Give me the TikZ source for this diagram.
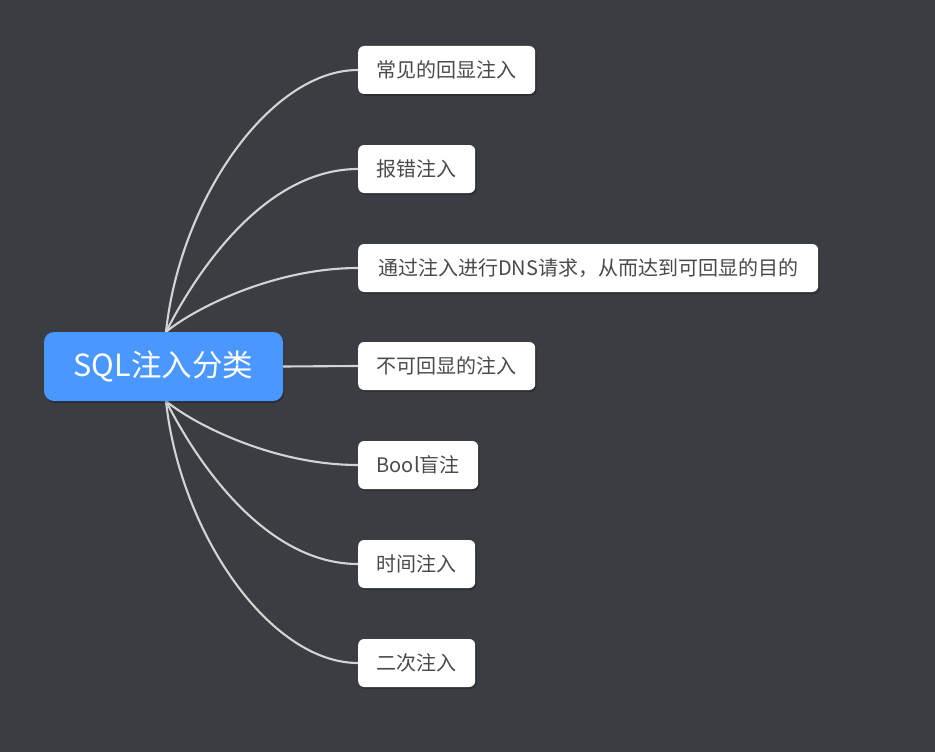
\documentclass[tikz,border=0pt]{standalone}
\usepackage{fontspec}
\setmainfont{Noto Sans CJK SC}
\usetikzlibrary{shadows}
\definecolor{bgc}{HTML}{3A3D42}
\definecolor{rootblue}{HTML}{4A97FF}
\definecolor{linec}{HTML}{D4D4D4}
\definecolor{txtc}{HTML}{4A4A4A}
\tikzset{
  rootbox/.style={fill=rootblue, rounded corners=10pt, minimum width=239pt, minimum height=69pt,
    inner sep=0pt, text=white, font=\fontsize{30.5}{36}\selectfont,
    drop shadow={shadow xshift=1pt, shadow yshift=-2pt, opacity=0.25, fill=black}},
  leafbox/.style={fill=white, rounded corners=6pt, minimum height=48pt, inner xsep=0pt, inner ysep=0pt,
    anchor=west, text=txtc, font=\fontsize{20}{24}\selectfont,
    drop shadow={shadow xshift=1.5pt, shadow yshift=-2pt, opacity=0.22, fill=black}},
  conn/.style={draw=linec, line width=2.1pt}
}
\begin{document}
\begin{tikzpicture}[x=1pt,y=-1pt]
\useasboundingbox[fill=bgc] (0,0) rectangle (935,752);
\coordinate (rt) at (166,332);
\coordinate (rb) at (166,401);
\node[leafbox, minimum width=177pt] (c1) at (358,70) {常见的回显注入};
\node[leafbox, minimum width=117pt] (c2) at (358,169) {报错注入};
\node[leafbox, minimum width=460pt] (c3) at (358,268) {通过注入进行DNS请求，从而达到可回显的目的};
\node[leafbox, minimum width=177pt] (c4) at (358,366) {不可回显的注入};
\node[leafbox, minimum width=120pt] (c5) at (358,465) {Bool盲注};
\node[leafbox, minimum width=117pt] (c6) at (358,564) {时间注入};
\node[leafbox, minimum width=117pt] (c7) at (358,663) {二次注入};
\draw[conn] (rt) .. controls (180,200) and (270,70) .. (c1.west);
\draw[conn] (rt) .. controls (202,261) and (270,169) .. (c2.west);
\draw[conn] (rt) .. controls (189,312) and (270,268) .. (c3.west);
\draw[conn] (rb) .. controls (189,421) and (270,465) .. (c5.west);
\draw[conn] (rb) .. controls (202,472) and (270,564) .. (c6.west);
\draw[conn] (rb) .. controls (180,533) and (270,663) .. (c7.west);
\node[rootbox] (root) at (163.5,366.5) {SQL注入分类};
\draw[conn] (root.east) -- (c4.west);
\end{tikzpicture}
\end{document}
